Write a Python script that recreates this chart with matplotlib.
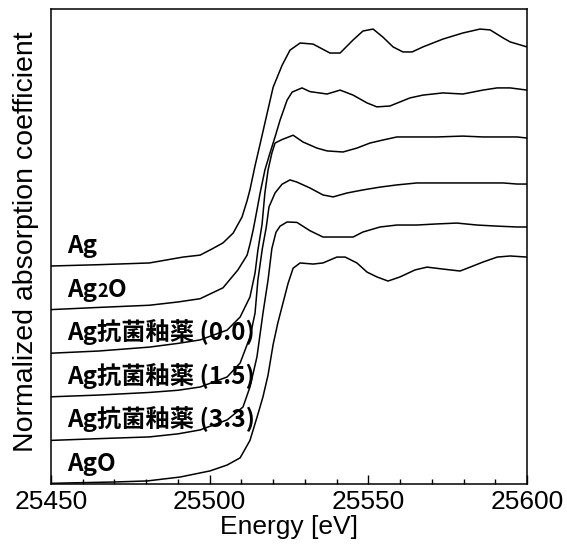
import matplotlib
matplotlib.use("Agg")
import matplotlib.pyplot as plt
from matplotlib.ticker import MultipleLocator
import numpy as np

# spectra (normalized, before stacking)
energy_ag = [25450, 25465, 25481, 25491.6, 25497, 25500.7, 25504.2, 25507.4, 25510.2, 25511.8,
             25512.7, 25514.3, 25515.9, 25518.1, 25520, 25522.8, 25525.3, 25528.5, 25532.6, 25537.9,
             25541.1, 25545.2, 25548.3, 25551.5, 25554.6, 25557.8, 25560.9, 25563.8, 25567.2, 25573.5,
             25579.8, 25585.2, 25588.4, 25592.5, 25594.7, 25600]
mu_ag = [0.000, 0.006, 0.014, 0.041, 0.05, 0.078, 0.106, 0.151, 0.225, 0.30,
         0.35, 0.46, 0.56, 0.70, 0.82, 0.92, 0.99, 1.023, 1.018, 0.977,
         0.977, 1.037, 1.078, 1.087, 1.05, 1.005, 0.982, 0.982, 1.005, 1.041,
         1.069, 1.087, 1.083, 1.046, 1.028, 1.005]

energy_ag2o = [25450, 25465, 25481, 25490, 25497, 25504.2, 25508.9, 25511.8, 25512.7, 25513.7,
               25514.3, 25515.9, 25517.4, 25519, 25520.6, 25522.2, 25524.4, 25526, 25529.1, 25531.6,
               25537, 25541.1, 25545.2, 25549.6, 25552.7, 25556.8, 25563.1, 25567.2, 25573.5, 25579.8,
               25586.1, 25590.6, 25594.7, 25600]
mu_ag2o = [0.00, 0.01, 0.02, 0.035, 0.05, 0.10, 0.182, 0.25, 0.30, 0.365,
           0.41, 0.535, 0.64, 0.718, 0.792, 0.87, 0.961, 0.998, 1.017, 1.0,
           0.989, 1.007, 0.984, 0.948, 0.93, 0.934, 0.971, 0.984, 0.994, 0.989,
           1.007, 1.017, 1.017, 1.007]

energy_g00 = [25450, 25465, 25481, 25490, 25497, 25505.5, 25509.6, 25512.7, 25514.3, 25515.2,
              25516.5, 25517.4, 25518.4, 25519.6, 25520.6, 25522.8, 25526.3, 25529.4, 25533.8, 25537,
              25542, 25546.4, 25550.5, 25554.6, 25559, 25565.3, 25571.6, 25579.8, 25586.1, 25590.6,
              25596.9, 25600]
mu_g00 = [0.00, 0.01, 0.028, 0.045, 0.061, 0.106, 0.166, 0.258, 0.368, 0.473,
          0.59, 0.735, 0.84, 0.918, 0.964, 0.98, 1.0, 0.969, 0.941, 0.928,
          0.923, 0.941, 0.964, 0.978, 0.992, 0.992, 0.992, 0.996, 0.992, 0.992,
          0.992, 0.987]

energy_g15 = [25450, 25465, 25481, 25490, 25497, 25505.5, 25509.6, 25512.7, 25514.3, 25515.2,
              25516.6, 25517.8, 25518.7, 25520.6, 25522.8, 25525.3, 25527.5, 25531.6, 25535.7, 25538.9,
              25543.3, 25548.3, 25553.7, 25559, 25565.3, 25572.6, 25579.8, 25586.1, 25592.5, 25596.9,
              25600]
mu_g15 = [0.00, 0.008, 0.02, 0.03, 0.045, 0.091, 0.155, 0.274, 0.384, 0.536,
          0.68, 0.775, 0.871, 0.935, 0.975, 0.995, 0.985, 0.958, 0.926, 0.917,
          0.935, 0.949, 0.962, 0.972, 0.981, 0.981, 0.981, 0.981, 0.981, 0.976,
          0.976]

energy_g33 = [25450, 25465, 25481, 25490, 25497, 25505.5, 25510.5, 25512.7, 25514.9, 25516.8,
              25518.4, 25519.6, 25520.9, 25522.2, 25524.4, 25527.5, 25531.6, 25535.7, 25540.1, 25545.2,
              25548.3, 25553.7, 25559, 25565.3, 25571.6, 25577.9, 25584.2, 25590.6, 25596.9, 25600]
mu_g33 = [0.00, 0.008, 0.016, 0.03, 0.048, 0.094, 0.153, 0.245, 0.383, 0.584,
          0.736, 0.88, 0.955, 0.983, 1.002, 1.000, 0.962, 0.933, 0.933, 0.933,
          0.956, 0.979, 0.988, 0.988, 0.993, 0.997, 0.988, 0.983, 0.979, 0.979]

energy_ago = [25450, 25456, 25469.5, 25480.3, 25490.7, 25500.1, 25505.5, 25509.6, 25512.7, 25515.2,
              25516.8, 25518.4, 25520, 25521.5, 25523.1, 25524.7, 25526.3, 25528.5, 25532.6, 25535.7,
              25540.1, 25542.7, 25546.4, 25549.6, 25552.7, 25556.2, 25560, 25564.7, 25568.5, 25573.5,
              25578.9, 25582.1, 25586.1, 25590.6, 25594.7, 25600]
mu_ago = [0.003, 0.005, 0.009, 0.014, 0.032, 0.06, 0.087, 0.12, 0.20, 0.32,
          0.40, 0.50, 0.64, 0.74, 0.83, 0.92, 0.99, 1.014, 1.009, 1.014,
          1.041, 1.041, 1.014, 0.972, 0.950, 0.931, 0.950, 0.982, 0.995, 0.986,
          0.977, 0.995, 1.018, 1.041, 1.046, 1.041]

labels = ["Ag", "Ag2O", "Ag抗菌釉薬 (0.0)", "Ag抗菌釉薬 (1.5)", "Ag抗菌釉薬 (3.3)", "AgO"]
offsets = [1.0, 0.8, 0.6, 0.4, 0.2, 0.0]
energies = [energy_ag, energy_ag2o, energy_g00, energy_g15, energy_g33, energy_ago]
spectra = [mu_ag, mu_ag2o, mu_g00, mu_g15, mu_g33, mu_ago]

fig = plt.figure(figsize=(5.67, 5.55), dpi=100)
ax = fig.add_axes([51 / 567, 1 - 484 / 555, 476 / 567, 475 / 555])

for e, mu, off in zip(energies, spectra, offsets):
    ax.plot(e, np.array(mu) + off, color="black", lw=1.1)

ax.set_xlim(25450, 25600)
ax.set_ylim(0, 2.179)

# sample names, bold gothic
lab_font = dict(family=["Noto Sans CJK JP", "DejaVu Sans"], fontweight="bold", fontsize=17.5, color="black")
x_lab = 25455.2
for name, off in zip(labels, offsets):
    yb = off + 0.06
    if name == "Ag2O":
        t1 = ax.text(x_lab, yb, "Ag", va="baseline", ha="left", **lab_font)
        small = dict(lab_font, fontsize=13)
        t2 = ax.annotate("2", xy=(1, yb), xycoords=(t1, "data"), va="baseline", ha="left", **small)
        ax.annotate("O", xy=(1, yb), xycoords=(t2, "data"), va="baseline", ha="left", **lab_font)
    else:
        ax.text(x_lab, yb, name, va="baseline", ha="left", **lab_font)

ax.xaxis.set_major_locator(MultipleLocator(50))
ax.xaxis.set_minor_locator(MultipleLocator(10))
ax.tick_params(axis="x", which="major", direction="in", length=6.5, width=1, top=False,
               labelsize=19, pad=4)
ax.tick_params(axis="x", which="minor", direction="in", length=3.3, width=1, top=False)
ax.tick_params(axis="y", left=False, right=False, labelleft=False)
for lbl in ax.get_xticklabels():
    lbl.set_family("Liberation Sans")
for sp in ax.spines.values():
    sp.set_linewidth(1.1)

ax.set_xlabel("Energy [eV]", fontsize=19, family="Liberation Sans", labelpad=1)
ax.set_ylabel("Normalized absorption coefficient", fontsize=20.5, family="Liberation Sans")
ax.yaxis.set_label_coords(-0.026, 0.51)

fig.savefig("out.png", dpi=100)
